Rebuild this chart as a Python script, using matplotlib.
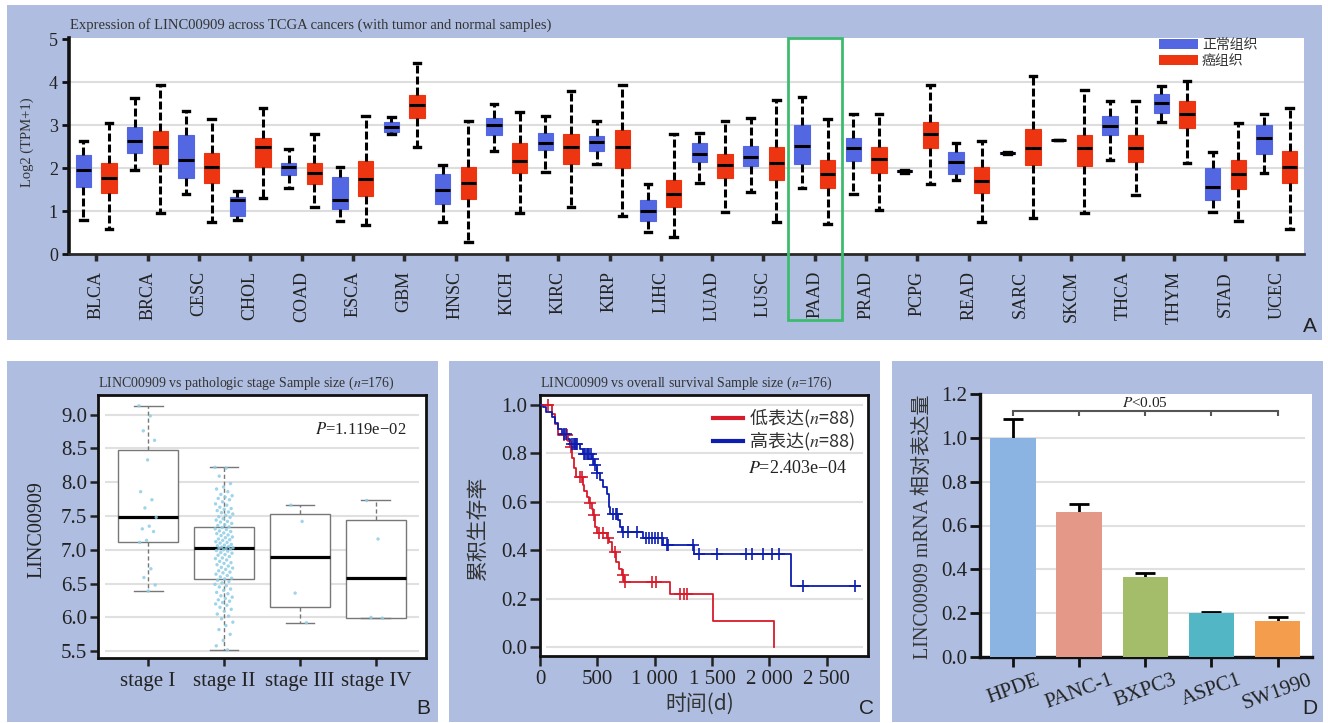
import numpy as np
import matplotlib
matplotlib.use('Agg')
import matplotlib.pyplot as plt
from matplotlib.patches import Rectangle, Patch
from matplotlib.lines import Line2D

plt.rcParams['font.family'] = ['Liberation Serif', 'Noto Sans CJK SC']
plt.rcParams['mathtext.fontset'] = 'stix'
plt.rcParams['axes.unicode_minus'] = True

# ---------------- data: panel A ----------------
cancers = ['BLCA', 'BRCA', 'CESC', 'CHOL', 'COAD', 'ESCA', 'GBM', 'HNSC', 'KICH', 'KIRC',
           'KIRP', 'LIHC', 'LUAD', 'LUSC', 'PAAD', 'PRAD', 'PCPG', 'READ', 'SARC', 'SKCM',
           'THCA', 'THYM', 'STAD', 'UCEC']
normal_lo  = [0.80, 1.95, 1.40, 0.79, 1.54, 0.78, 2.81, 0.74, 2.41, 1.92, 2.11, 0.51, 1.67, 1.45, 1.54, 1.40, 1.90, 1.72, 2.33, 2.66, 2.19, 3.09, 0.99, 1.90]
normal_q1  = [1.57, 2.35, 1.78, 0.90, 1.84, 1.05, 2.85, 1.16, 2.77, 2.43, 2.41, 0.78, 2.14, 2.06, 2.09, 2.16, 1.92, 1.88, 2.34, 2.66, 2.77, 3.28, 1.26, 2.33]
normal_med = [1.96, 2.64, 2.19, 1.26, 2.04, 1.27, 2.96, 1.49, 3.02, 2.58, 2.61, 1.01, 2.34, 2.26, 2.53, 2.47, 1.94, 2.14, 2.36, 2.66, 2.98, 3.51, 1.57, 2.71]
normal_q3  = [2.30, 2.96, 2.77, 1.33, 2.12, 1.81, 3.08, 1.87, 3.16, 2.83, 2.76, 1.26, 2.60, 2.52, 3.00, 2.71, 1.96, 2.37, 2.38, 2.66, 3.21, 3.72, 2.00, 3.00]
normal_hi  = [2.64, 3.64, 3.33, 1.47, 2.46, 2.02, 3.20, 2.07, 3.49, 3.22, 3.10, 1.64, 2.83, 3.16, 3.66, 3.26, 1.97, 2.58, 2.39, 2.66, 3.57, 3.91, 2.39, 3.26]
tumor_lo   = [0.60, 0.95, 0.74, 1.31, 1.09, 0.68, 2.50, 0.29, 0.95, 1.11, 0.88, 0.40, 0.99, 0.74, 0.70, 1.04, 1.64, 0.75, 0.85, 0.95, 1.37, 2.13, 0.77, 0.59]
tumor_q1   = [1.42, 2.09, 1.66, 2.04, 1.63, 1.36, 3.18, 1.28, 1.90, 2.10, 2.01, 1.09, 1.78, 1.74, 1.55, 1.90, 2.48, 1.43, 2.07, 2.05, 2.14, 2.93, 1.51, 1.65]
tumor_med  = [1.78, 2.49, 2.03, 2.50, 1.90, 1.76, 3.47, 1.67, 2.17, 2.50, 2.49, 1.40, 2.08, 2.12, 1.88, 2.22, 2.80, 1.71, 2.47, 2.47, 2.47, 3.26, 1.88, 2.03]
tumor_q3   = [2.12, 2.87, 2.36, 2.71, 2.12, 2.17, 3.71, 2.03, 2.60, 2.81, 2.89, 1.74, 2.33, 2.49, 2.19, 2.50, 3.08, 2.03, 2.92, 2.77, 2.77, 3.57, 2.19, 2.40]
tumor_hi   = [3.06, 3.94, 3.14, 3.40, 2.79, 3.22, 4.45, 3.11, 3.30, 3.81, 3.94, 2.81, 3.11, 3.58, 3.14, 3.26, 3.94, 2.64, 4.14, 3.82, 3.56, 4.04, 3.05, 3.40]
legend_a = ['正常组织', '癌组织']

# ---------------- data: panel B ----------------
stages = ['stage I', 'stage II', 'stage III', 'stage IV']
stage_lo  = [6.39, 5.52, 5.92, 5.99]
stage_q1  = [7.12, 6.57, 6.15, 5.99]
stage_med = [7.48, 7.02, 6.89, 6.59]
stage_q3  = [8.47, 7.34, 7.53, 7.44]
stage_hi  = [9.12, 8.22, 7.66, 7.73]
pts_stage1 = [9.13, 8.98, 8.76, 8.62, 8.33, 7.86, 7.74, 7.62, 7.48, 7.35, 7.31, 7.27, 7.14,
              7.11, 6.72, 6.59, 6.48, 6.39]
pts_stage2 = [8.22, 8.21, 8.09, 7.98, 7.93, 7.90, 7.86, 7.82, 7.80, 7.78, 7.76, 7.74, 7.71,
              7.68, 7.66, 7.63, 7.61, 7.60, 7.58, 7.56, 7.55, 7.53, 7.51, 7.49, 7.48, 7.46,
              7.44, 7.42, 7.41, 7.39, 7.37, 7.36, 7.34, 7.33, 7.31, 7.30, 7.28, 7.27, 7.25,
              7.24, 7.22, 7.21, 7.19, 7.18, 7.16, 7.15, 7.14, 7.12, 7.11, 7.10, 7.08, 7.07,
              7.06, 7.05, 7.04, 7.03, 7.02, 7.02, 7.01, 7.00, 6.99, 6.98, 6.96, 6.95, 6.93,
              6.92, 6.90, 6.88, 6.87, 6.85, 6.83, 6.81, 6.80, 6.78, 6.76, 6.74, 6.73, 6.71,
              6.69, 6.67, 6.66, 6.64, 6.62, 6.60, 6.58, 6.57, 6.55, 6.53, 6.51, 6.49, 6.47,
              6.45, 6.42, 6.40, 6.37, 6.35, 6.32, 6.30, 6.28, 6.26, 6.24, 6.22, 6.20, 6.18,
              6.15, 6.12, 6.09, 6.05, 6.02, 5.98, 5.93, 5.88, 5.82, 5.75, 5.66, 5.58, 5.52]
pts_stage3 = [7.66, 7.42, 6.36, 5.92]
pts_stage4 = [7.73, 7.16, 6.00, 5.99]

# ---------------- data: panel C ----------------
low_t = [0, 102, 131, 160, 241, 262, 282, 299, 314, 372, 384, 407, 424, 450, 465, 480, 500,
         581, 602, 625, 663, 692, 715, 735, 1133, 1511, 2043]
low_s = [1.0, 0.96, 0.92, 0.877, 0.85, 0.824, 0.78, 0.74, 0.703, 0.67, 0.645, 0.62, 0.593,
         0.57, 0.545, 0.497, 0.472, 0.45, 0.432, 0.392, 0.352, 0.323, 0.297, 0.267, 0.219,
         0.106, 0.0]
low_censor = [73, 209, 232, 270, 349, 363, 436, 470, 517, 552, 590, 654, 721, 745, 979, 1011,
              1220, 1258, 1284]
high_t = [0, 23, 52, 102, 131, 160, 189, 232, 262, 349, 372, 450, 471, 494, 523, 552, 581, 599,
          610, 677, 697, 712, 901, 1069, 1343, 2188, 2790]
high_s = [1.0, 0.99, 0.97, 0.95, 0.925, 0.90, 0.879, 0.86, 0.839, 0.816, 0.795, 0.774, 0.75,
          0.717, 0.689, 0.662, 0.63, 0.579, 0.549, 0.524, 0.497, 0.473, 0.451, 0.422, 0.382,
          0.253, 0.253]
high_censor = [209, 227, 282, 296, 305, 314, 325, 384, 395, 407, 421, 430, 442, 459, 482, 500,
               639, 660, 668, 721, 764, 843, 921, 953, 976, 1003, 1032, 1061, 1110, 1119, 1337,
               1389, 1540, 1796, 1845, 1947, 2020, 2087, 2296, 2746]
km_labels = ['低表达($n$=88)', '高表达($n$=88)']
time_ticks = [0, 500, 1000, 1500, 2000, 2500]
time_ticklabels = ['0', '500', '1 000', '1 500', '2 000', '2 500']

# ---------------- data: panel D ----------------
cells = ['HPDE', 'PANC-1', 'BXPC3', 'ASPC1', 'SW1990']
rel_expr = [1.0, 0.662, 0.364, 0.201, 0.164]
rel_err = [0.087, 0.037, 0.021, 0.003, 0.020]
bar_colors = ['#8CB4E2', '#E49887', '#A3BD6A', '#52B6C5', '#F49E4D']

# ---------------- figure ----------------
W, H = 1328, 723
fig = plt.figure(figsize=(W / 100, H / 100), dpi=100)
fig.patch.set_facecolor('white')
PANEL = '#AEBDE0'
DARK = '#222222'


def frac(l, t, r, b):
    return [l / W, 1 - b / H, (r - l) / W, (b - t) / H]


def fx(x):
    return x / W


def fy(y):
    return 1 - y / H


for (l, t, r, b) in [(7, 5, 1322, 340), (7, 361, 438, 722), (449, 361, 880, 722), (892, 361, 1323, 722)]:
    fig.patches.append(Rectangle((fx(l), fy(b)), (r - l) / W, (b - t) / H,
                                 transform=fig.transFigure, facecolor=PANEL,
                                 edgecolor='none', zorder=-10))

# ================= Panel A =================
axA = fig.add_axes(frac(69, 37.7, 1304, 254.3))
axA.set_facecolor('white')
BLUE = '#5467E3'
RED = '#EE3512'
pos = np.arange(len(cancers))


def make_stats(lo, q1, med, q3, hi):
    return [dict(whislo=a, q1=b, med=c, q3=d, whishi=e, fliers=[])
            for a, b, c, d, e in zip(lo, q1, med, q3, hi)]


whisk = dict(color='black', lw=2.2, linestyle=(0, (2.6, 1.0)))
for stats, offs, col in [(make_stats(normal_lo, normal_q1, normal_med, normal_q3, normal_hi), -0.25, BLUE),
                         (make_stats(tumor_lo, tumor_q1, tumor_med, tumor_q3, tumor_hi), 0.25, RED)]:
    axA.bxp(stats, positions=pos + offs, widths=0.3, patch_artist=True, showfliers=False,
            boxprops=dict(facecolor=col, edgecolor=col, lw=0.8),
            medianprops=dict(color='black', lw=2.2, solid_capstyle='butt'),
            whiskerprops=whisk, capprops=dict(color='black', lw=2.4), capwidths=0.13,
            manage_ticks=False, zorder=3)

axA.set_xlim(-0.53, len(cancers) - 0.47)
axA.set_ylim(0, 5.04)
axA.set_yticks([0, 1, 2, 3, 4, 5])
axA.set_yticklabels(['0', '1', '2', '3', '4', '5'])
for yv in [1, 2, 3, 4]:
    axA.axhline(yv, color='#DDDDDD', lw=1.5, zorder=1)
axA.set_xticks(pos)
axA.set_xticklabels(cancers, rotation=90, va='top', ha='center')
axA.tick_params(axis='x', length=5, width=2.5, color='#2a2a2a', labelsize=13, pad=7, labelcolor=DARK)
axA.tick_params(axis='y', length=5, width=2.0, color='#111111', labelsize=13, pad=3, labelcolor=DARK)
for s in ['top', 'right']:
    axA.spines[s].set_visible(False)
axA.spines['left'].set_linewidth(2.6)
axA.spines['left'].set_color('#111111')
axA.spines['bottom'].set_linewidth(2.0)
axA.spines['bottom'].set_color('#2a2a2a')

legA = axA.legend([Patch(facecolor=BLUE, edgecolor='none'), Patch(facecolor=RED, edgecolor='none')],
                  legend_a, loc='upper left', bbox_to_anchor=(0.8826, 1.0), frameon=False,
                  prop=dict(family='Noto Sans CJK SC', size=10), handlelength=2.8,
                  handleheight=0.8, handletextpad=0.3, labelspacing=0.15, borderpad=0,
                  borderaxespad=0)
for t in legA.get_texts():
    t.set_color('#333333')

# highlight PAAD
iP = cancers.index('PAAD')
axA.add_patch(Rectangle((iP - 0.52, -1.53), 1.04, 6.56, fill=False, edgecolor='#3DBB6E',
                        lw=2.0, clip_on=False, zorder=5))

fig.text(fx(70), fy(25), 'Expression of LINC00909 across TCGA cancers (with tumor and normal samples)',
         fontsize=10.5, color='#333333', ha='left', va='center')
fig.text(fx(27), fy(142), 'Log2 (TPM+1)', fontsize=10.5, color='#333333', rotation=90,
         ha='center', va='center')
fig.text(fx(1310), fy(327), 'A', fontsize=15, family='Liberation Sans', color=DARK,
         ha='center', va='center')

# ================= Panel B =================
axB = fig.add_axes(frac(98, 395, 426, 658))
axB.set_facecolor('white')
spos = np.arange(1, len(stages) + 1)
axB.bxp(make_stats(stage_lo, stage_q1, stage_med, stage_q3, stage_hi), positions=spos,
        widths=0.8, patch_artist=True, showfliers=False,
        boxprops=dict(facecolor='white', edgecolor='#777777', lw=1.0),
        medianprops=dict(color='black', lw=2.3, solid_capstyle='butt'),
        whiskerprops=dict(color='#777777', lw=1.0, linestyle=(0, (3, 2))),
        capprops=dict(color='#777777', lw=1.0), capwidths=0.38, manage_ticks=False, zorder=3)


def jitter(n, w):
    return ((np.arange(n) * 0.618034) % 1 - 0.5) * w


for k, pts in enumerate([pts_stage1, pts_stage2, pts_stage3, pts_stage4]):
    axB.scatter(spos[k] + jitter(len(pts), 0.24), pts, s=6, color='#8FCDE6', alpha=0.85,
                edgecolors='none', zorder=4)

axB.set_xlim(0.34, 4.66)
axB.set_ylim(5.40, 9.29)
yB = [5.5, 6.0, 6.5, 7.0, 7.5, 8.0, 8.5, 9.0]
axB.set_yticks(yB)
axB.set_yticklabels(['%.1f' % v for v in yB])
axB.hlines(yB, 0.02, 0.98, transform=axB.get_yaxis_transform(), color='#E0E0E0', lw=1.5, zorder=1)
axB.set_xticks(spos)
axB.set_xticklabels(stages)
axB.tick_params(axis='both', length=6, width=1.8, color='#222222', labelsize=15, labelcolor=DARK)
axB.tick_params(axis='x', pad=4)
axB.tick_params(axis='y', pad=2)
for s in axB.spines.values():
    s.set_linewidth(2.0)
    s.set_color('#111111')
axB.text(0.662, 0.867, '$P$=1.119e−02', transform=axB.transAxes, fontsize=12, color=DARK,
         ha='left', va='center')
fig.text(fx(98), fy(383), 'LINC00909 vs pathologic stage Sample size ($n$=176)', fontsize=10,
         color='#333333', ha='left', va='center')
fig.text(fx(37), fy(530), 'LINC00909', fontsize=14.5, color=DARK, rotation=90, ha='center', va='center')
fig.text(fx(423), fy(709), 'B', fontsize=15, family='Liberation Sans', color=DARK, ha='center', va='center')

# ================= Panel C =================
axC = fig.add_axes(frac(540, 395, 868, 656))
axC.set_facecolor('white')
KRED = '#D81B2B'
KBLUE = '#0D1DB0'


def surv_at(t, s, times):
    t = np.asarray(t)
    s = np.asarray(s)
    idx = np.searchsorted(t, times, side='right') - 1
    return s[idx]


axC.step(low_t, low_s, where='post', color=KRED, lw=1.3, zorder=3)
axC.plot(low_censor, surv_at(low_t, low_s, low_censor), '+', color=KRED, ms=8, mew=1.2, zorder=4)
axC.step(high_t, high_s, where='post', color=KBLUE, lw=1.3, zorder=3)
axC.plot(high_censor, surv_at(high_t, high_s, high_censor), '+', color=KBLUE, ms=8, mew=1.2, zorder=4)

axC.set_xlim(0, 2860)
axC.set_ylim(-0.037, 1.04)
yC = [0.0, 0.2, 0.4, 0.6, 0.8, 1.0]
axC.set_yticks(yC)
axC.set_yticklabels(['%.1f' % v for v in yC])
axC.hlines(yC, 0.018, 0.985, transform=axC.get_yaxis_transform(), color='#E0E0E0', lw=1.5, zorder=1)
axC.set_xticks(time_ticks)
axC.set_xticklabels(time_ticklabels)
axC.tick_params(axis='both', length=7, width=1.8, color='#222222', labelsize=15, labelcolor=DARK)
axC.tick_params(axis='x', pad=3)
axC.tick_params(axis='y', pad=2)
for s in axC.spines.values():
    s.set_linewidth(2.0)
    s.set_color('#111111')

legC = axC.legend([Line2D([], [], color=KRED, lw=3), Line2D([], [], color=KBLUE, lw=3)], km_labels,
                  loc='upper left', bbox_to_anchor=(0.527, 0.955), frameon=False,
                  prop=dict(family='Noto Sans CJK SC', size=13), handlelength=1.65,
                  handletextpad=0.35, labelspacing=0.0, borderpad=0, borderaxespad=0)
for t in legC.get_texts():
    t.set_color('#333333')
axC.text(0.634, 0.72, '$P$=2.403e−04', transform=axC.transAxes, fontsize=13, color=DARK,
         ha='left', va='center')
fig.text(fx(540), fy(383), 'LINC00909 vs overall survival Sample size ($n$=176)', fontsize=10,
         color='#333333', ha='left', va='center')
fig.text(fx(478), fy(528), '累积生存率', family='Noto Sans CJK SC', fontsize=15, color='#333333',
         rotation=90, ha='center', va='center')
fig.text(fx(700), fy(704), '时间(d)', family='Noto Sans CJK SC', fontsize=15, color='#333333',
         ha='center', va='center')
fig.text(fx(866), fy(709), 'C', fontsize=15, family='Liberation Sans', color=DARK, ha='center', va='center')

# ================= Panel D =================
axD = fig.add_axes(frac(980, 394, 1312, 657))
axD.set_facecolor('white')
cpos = np.arange(len(cells))
axD.bar(cpos, rel_expr, width=0.69, color=bar_colors, edgecolor='none', zorder=3)
# symmetric error bars drawn beneath the bars so only the upper half shows
axD.errorbar(cpos, rel_expr, yerr=rel_err, fmt='none', ecolor='black',
             elinewidth=2.0, capsize=7, capthick=2.0, zorder=2)
axD.set_xlim(-0.5, 4.52)
axD.set_ylim(0, 1.2)
yD = [0.0, 0.2, 0.4, 0.6, 0.8, 1.0, 1.2]
axD.set_yticks(yD)
axD.set_yticklabels(['%.1f' % v for v in yD])
axD.hlines(yD[1:-1], 0.0, 0.98, transform=axD.get_yaxis_transform(), color='#E0E0E0', lw=1.5, zorder=1)
axD.set_xticks(cpos)
axD.set_xticklabels(cells, rotation=20, ha='center', va='top')
axD.tick_params(axis='both', length=7, width=2.0, color='#111111', labelsize=15, labelcolor=DARK)
axD.tick_params(axis='x', pad=3)
axD.tick_params(axis='y', pad=2)
for s in ['top', 'right']:
    axD.spines[s].set_visible(False)
for s in ['left', 'bottom']:
    axD.spines[s].set_linewidth(2.4)
    axD.spines[s].set_color('#111111')
# significance bracket
axD.plot([cpos[0], cpos[-1]], [1.121, 1.121], color='#555555', lw=1.5, zorder=4, clip_on=False)
axD.vlines(cpos, 1.101, 1.121, color='#555555', lw=1.5, zorder=4)
axD.text(cpos[2], 1.158, '$P$<0.05', fontsize=11, color=DARK, ha='center', va='center')
fig.text(fx(923), fy(527), 'LINC00909 mRNA 相对表达量', fontsize=14.5, color='#333333', rotation=90,
         ha='center', va='center')
fig.text(fx(1310), fy(709), 'D', fontsize=15, family='Liberation Sans', color=DARK, ha='center', va='center')

fig.savefig('out.png', dpi=100, facecolor='white')
